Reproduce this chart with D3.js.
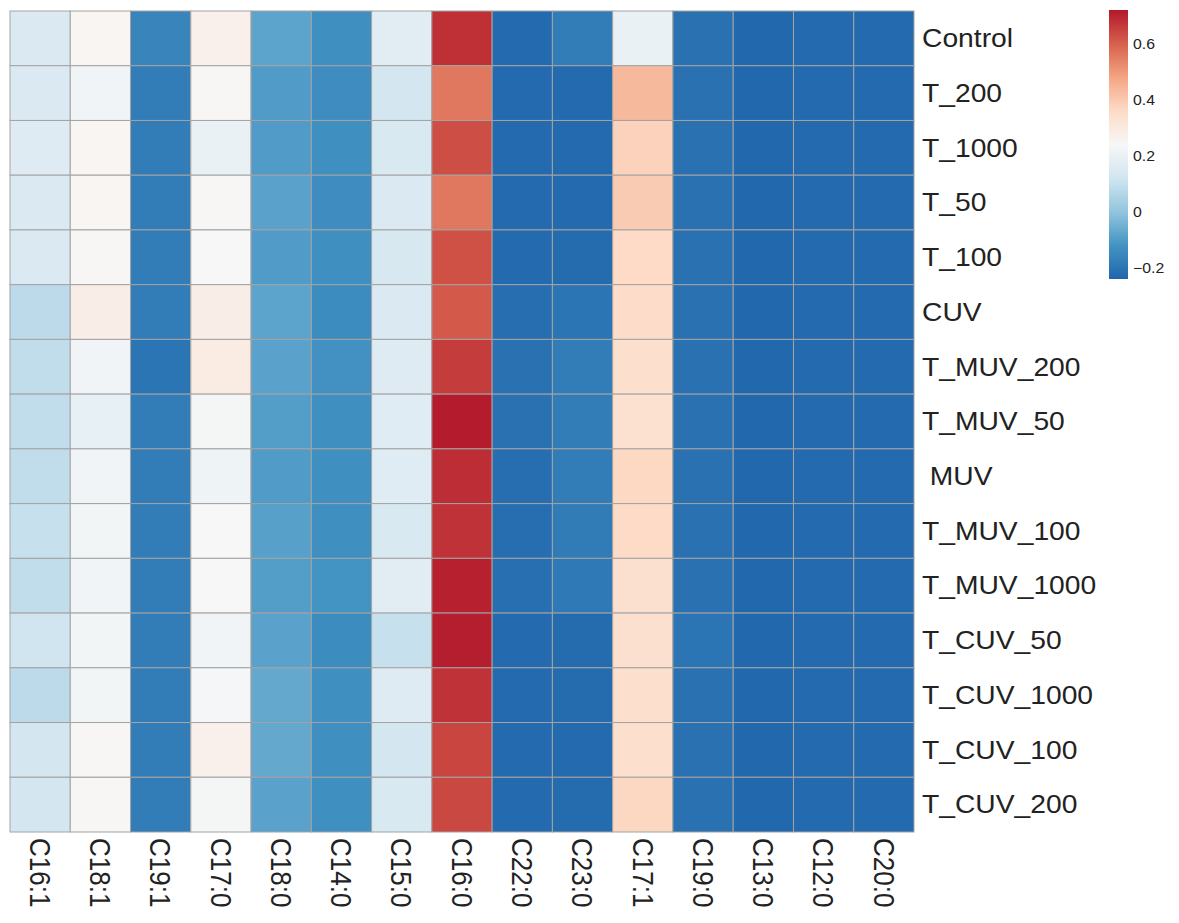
<!DOCTYPE html>
<html>
<head>
<meta charset="utf-8">
<script src="https://cdn.jsdelivr.net/npm/d3@7"></script>
<style>
  html, body { margin: 0; padding: 0; background: #ffffff; }
  svg { display: block; }
  text { font-family: "Liberation Sans", Arial, sans-serif; fill: #222; white-space: pre; }
</style>
</head>
<body>
<svg id="chart" width="1179" height="923"></svg>
<script>
// ---- data ----
const columns = ["C16:1","C18:1","C19:1","C17:0","C18:0","C14:0","C15:0","C16:0","C22:0","C23:0","C17:1","C19:0","C13:0","C12:0","C20:0"];
const rowNames = ["Control","T_200","T_1000","T_50","T_100","CUV","T_MUV_200","T_MUV_50"," MUV","T_MUV_100","T_MUV_1000","T_CUV_50","T_CUV_1000","T_CUV_100","T_CUV_200"];

const rowControl   = [0.15, 0.25, -0.16, 0.27, -0.08, -0.13, 0.17, 0.68, -0.23, -0.18, 0.20, -0.21, -0.235, -0.23, -0.23];
const rowT200      = [0.15, 0.22, -0.18, 0.245, -0.10, -0.135, 0.13, 0.56, -0.23, -0.23, 0.435, -0.21, -0.235, -0.23, -0.23];
const rowT1000     = [0.16, 0.25, -0.18, 0.20, -0.10, -0.13, 0.145, 0.63, -0.23, -0.23, 0.38, -0.21, -0.235, -0.23, -0.23];
const rowT50       = [0.15, 0.25, -0.18, 0.245, -0.085, -0.135, 0.15, 0.56, -0.23, -0.23, 0.395, -0.21, -0.235, -0.23, -0.23];
const rowT100      = [0.15, 0.245, -0.18, 0.24, -0.10, -0.13, 0.14, 0.625, -0.23, -0.225, 0.36, -0.21, -0.235, -0.23, -0.23];
const rowCUV       = [0.08, 0.28, -0.18, 0.28, -0.08, -0.14, 0.15, 0.61, -0.22, -0.20, 0.355, -0.21, -0.235, -0.23, -0.23];
const rowTMUV200   = [0.09, 0.22, -0.20, 0.29, -0.085, -0.125, 0.16, 0.66, -0.21, -0.18, 0.345, -0.21, -0.235, -0.23, -0.23];
const rowTMUV50    = [0.09, 0.19, -0.18, 0.23, -0.095, -0.13, 0.165, 0.715, -0.21, -0.18, 0.335, -0.21, -0.235, -0.23, -0.23];
const rowMUV       = [0.09, 0.22, -0.18, 0.21, -0.10, -0.13, 0.165, 0.685, -0.22, -0.18, 0.365, -0.21, -0.235, -0.23, -0.23];
const rowTMUV100   = [0.10, 0.225, -0.18, 0.24, -0.09, -0.13, 0.145, 0.675, -0.22, -0.185, 0.36, -0.21, -0.235, -0.23, -0.23];
const rowTMUV1000  = [0.09, 0.22, -0.18, 0.24, -0.095, -0.12, 0.17, 0.705, -0.215, -0.19, 0.34, -0.21, -0.235, -0.23, -0.23];
const rowTCUV50    = [0.12, 0.225, -0.18, 0.22, -0.085, -0.14, 0.10, 0.71, -0.23, -0.225, 0.34, -0.20, -0.235, -0.23, -0.23];
const rowTCUV1000  = [0.08, 0.225, -0.18, 0.235, -0.07, -0.13, 0.16, 0.675, -0.23, -0.225, 0.345, -0.21, -0.235, -0.23, -0.23];
const rowTCUV100   = [0.13, 0.245, -0.18, 0.27, -0.07, -0.13, 0.13, 0.645, -0.23, -0.23, 0.345, -0.21, -0.235, -0.23, -0.23];
const rowTCUV200   = [0.13, 0.245, -0.18, 0.23, -0.085, -0.13, 0.145, 0.64, -0.23, -0.225, 0.37, -0.21, -0.235, -0.23, -0.23];

const colorDomain = [-0.24, 0.72];
const legendTicks = [-0.2, 0, 0.2, 0.4, 0.6];
const palette = ["#2166AC","#4393C3","#92C5DE","#D1E5F0","#F7F7F7","#FDDBC7","#F4A582","#D6604D","#B2182B"];

// ---- build ----
const rowValues = [rowControl,rowT200,rowT1000,rowT50,rowT100,rowCUV,rowTMUV200,rowTMUV50,rowMUV,rowTMUV100,rowTMUV1000,rowTCUV50,rowTCUV1000,rowTCUV100,rowTCUV200];
const cells = [];
rowNames.forEach((r, i) => columns.forEach((c, j) => cells.push({row: r, col: c, value: rowValues[i][j]})));

const svg = d3.select("#chart");
const SX = 1.13; // horizontal stretch of the reference's glyphs

const x = d3.scaleBand().domain(columns).range([10, 914]);
const y = d3.scaleBand().domain(rowNames).range([11, 832]);

const stops = d3.range(palette.length).map(i => colorDomain[0] + i * (colorDomain[1] - colorDomain[0]) / (palette.length - 1));
const color = d3.scaleLinear().domain(stops).range(palette).interpolate(d3.interpolateRgb).clamp(true);

svg.append("g").selectAll("rect").data(cells).join("rect")
  .attr("x", d => x(d.col))
  .attr("y", d => y(d.row))
  .attr("width", x.bandwidth())
  .attr("height", y.bandwidth())
  .attr("fill", d => color(d.value))
  .attr("stroke", "#a3a3a3")
  .attr("stroke-width", 1);

// row labels
svg.append("g").selectAll("text").data(rowNames).join("text")
  .attr("transform", d => `translate(922,${y(d) + y.bandwidth() / 2}) scale(${SX},1)`)
  .attr("dy", "0.35em")
  .attr("font-size", 25)
  .text(d => d);

// column labels
svg.append("g").selectAll("text").data(columns).join("text")
  .attr("transform", d => `translate(${x(d) + x.bandwidth() / 2},838) scale(${SX},1) rotate(90)`)
  .attr("dy", "0.35em")
  .attr("font-size", 26)
  .text(d => d);

// legend
const defs = svg.append("defs");
const grad = defs.append("linearGradient").attr("id", "lg").attr("x1", 0).attr("y1", 1).attr("x2", 0).attr("y2", 0);
d3.range(0, 1.0001, 0.02).forEach(t => {
  grad.append("stop").attr("offset", t).attr("stop-color", color(colorDomain[0] + t * (colorDomain[1] - colorDomain[0])));
});
const ly = d3.scaleLinear().domain(colorDomain).range([279, 10]);
svg.append("rect")
  .attr("x", 1109).attr("y", ly(colorDomain[1]))
  .attr("width", 19).attr("height", ly(colorDomain[0]) - ly(colorDomain[1]))
  .attr("fill", "url(#lg)");
const fmt = d3.format(".1~f");
svg.append("g").selectAll("text").data(legendTicks).join("text")
  .attr("transform", d => `translate(1133,${ly(d)}) scale(${SX},1)`)
  .attr("dy", "0.35em")
  .attr("font-size", 14)
  .text(d => fmt(d));
</script>
</body>
</html>
